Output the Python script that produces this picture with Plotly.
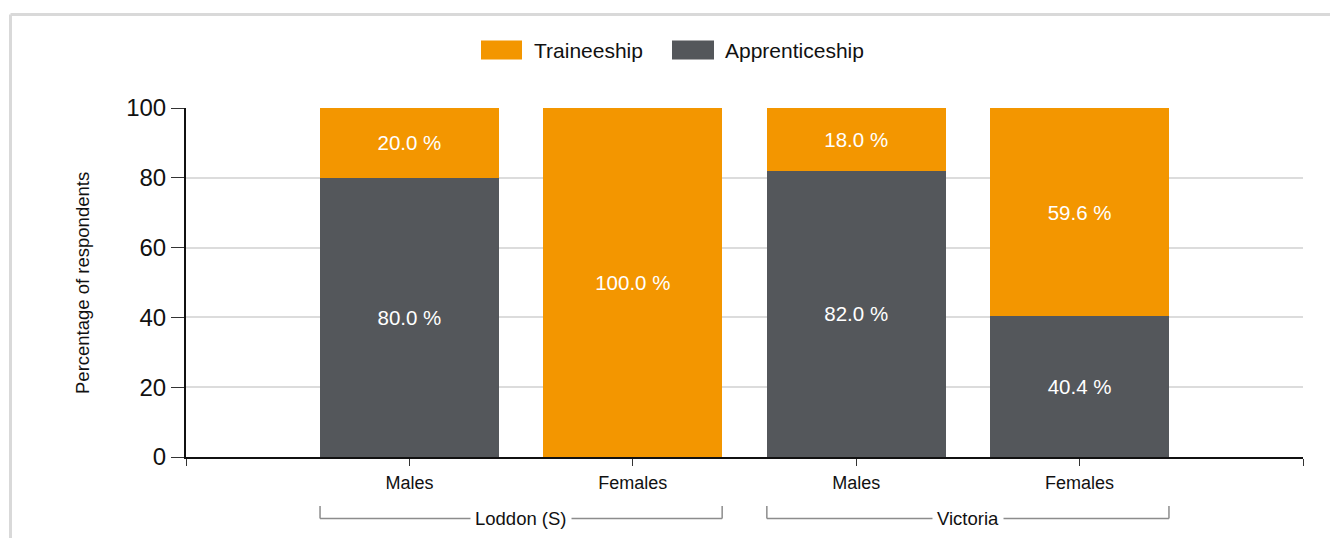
import plotly.graph_objects as go

# ---- data ----
categories = ["Males", "Females", "Males", "Females"]
groups = ["Loddon (S)", "Victoria"]
apprenticeship = [80.0, 0.0, 82.0, 40.4]
traineeship = [20.0, 100.0, 18.0, 59.6]
series_names = ["Traineeship", "Apprenticeship"]
y_ticks = [0, 20, 40, 60, 80, 100]

ORANGE = "#F39600"
GREY = "#54575B"
FONT = "Liberation Sans, Arial, sans-serif"

OFF = 8  # page body margin in the browser
W, H = 1338 - OFF, 538 - OFF
L, R, T, B = 186 - OFF, 35, 108 - OFF, 81
PW, PH = W - L - R, H - T - B


def px_x(p):
    # screen pixel -> paper x
    return (p - OFF - L) / PW


def px_y(p):
    # screen pixel -> paper y
    return (OFF + H - B - p) / PH


xs = list(range(len(categories)))


def labels(vals):
    return [f"{v:.1f} %" if v > 0 else "" for v in vals]


fig = go.Figure()
fig.add_trace(go.Bar(
    x=xs, y=apprenticeship, name=series_names[1], marker=dict(color=GREY, line=dict(width=0)),
    text=labels(apprenticeship), textposition="inside", insidetextanchor="middle",
    textangle=0, textfont=dict(color="white", size=20.5, family=FONT), width=0.8,
    showlegend=False, hoverinfo="skip"))
fig.add_trace(go.Bar(
    x=xs, y=traineeship, name=series_names[0], marker=dict(color=ORANGE, line=dict(width=0)),
    text=labels(traineeship), textposition="inside", insidetextanchor="middle",
    textangle=0, textfont=dict(color="white", size=20.5, family=FONT), width=0.8,
    showlegend=False, hoverinfo="skip"))

shapes = []
annotations = []

# outer frame (top & left light grey lines)
fx, fy = px_x(10.5), px_y(14.5)
shapes.append(dict(type="line", xref="paper", yref="paper", x0=fx, x1=1.2, y0=fy, y1=fy,
                   line=dict(color="#D9D9D9", width=3)))
shapes.append(dict(type="line", xref="paper", yref="paper", x0=fx, x1=fx, y0=fy, y1=-0.4,
                   line=dict(color="#D9D9D9", width=3)))

# manual legend
legend_items = [(series_names[0], ORANGE, 481, 522, 532), (series_names[1], GREY, 672, 714, 723)]
for name, col, bx0, bx1, tx in legend_items:
    shapes.append(dict(type="rect", xref="paper", yref="paper",
                       x0=px_x(bx0), x1=px_x(bx1), y0=px_y(59.5), y1=px_y(40.5),
                       fillcolor=col, line=dict(width=0)))
    annotations.append(dict(text=name, xref="paper", yref="paper", x=px_x(tx), y=px_y(50),
                            xanchor="left", yanchor="middle", showarrow=False,
                            font=dict(size=21, color="#111", family=FONT)))

# group brackets
y_line = px_y(518.5)
y_top = px_y(506)
for gi, g in enumerate(groups):
    a = xs[2 * gi] - 0.4
    b = xs[2 * gi + 1] + 0.4
    shapes.append(dict(type="line", xref="x", yref="paper", x0=a, x1=b, y0=y_line, y1=y_line,
                       line=dict(color="#8C8C8C", width=1.5)))
    for xv in (a, b):
        shapes.append(dict(type="line", xref="x", yref="paper", x0=xv, x1=xv, y0=y_line, y1=y_top,
                           line=dict(color="#8C8C8C", width=1.5)))
    annotations.append(dict(text=g, xref="x", yref="paper", x=(a + b) / 2, y=y_line,
                            xanchor="center", yanchor="middle", showarrow=False,
                            bgcolor="white", borderpad=4,
                            font=dict(size=18.5, color="#111", family=FONT)))

# y-axis title
annotations.append(dict(text="Percentage of respondents", xref="paper", yref="paper",
                        x=px_x(82), y=px_y(283), textangle=-90, showarrow=False,
                        xanchor="center", yanchor="middle",
                        font=dict(size=18.5, color="#111", family=FONT)))

fig.update_layout(
    width=W, height=H, autosize=False,
    margin=dict(l=L, r=R, t=T, b=B, pad=0),
    paper_bgcolor="white", plot_bgcolor="white",
    barmode="stack", bargap=0.2,
    font=dict(family=FONT, color="#111"),
    shapes=shapes, annotations=annotations,
    xaxis=dict(range=[-1, len(categories)], tickmode="array",
               tickvals=[-1] + xs + [len(categories)],
               ticktext=[""] + categories + [""],
               showline=True, linecolor="#111", linewidth=2,
               ticks="outside", ticklen=7, tickcolor="#333", tickwidth=1,
               showgrid=False, zeroline=False, ticklabelstandoff=1,
               tickfont=dict(size=18, color="#111", family=FONT), fixedrange=True),
    yaxis=dict(range=[0, 100], tickmode="array", tickvals=y_ticks,
               showline=True, linecolor="#111", linewidth=2,
               ticks="outside", ticklen=13, tickcolor="#333", tickwidth=1,
               showgrid=True, gridcolor="#DCDCDC", gridwidth=2, zeroline=False,
               tickfont=dict(size=24, color="#111", family=FONT), fixedrange=True),
)

fig.write_html("out.html")
